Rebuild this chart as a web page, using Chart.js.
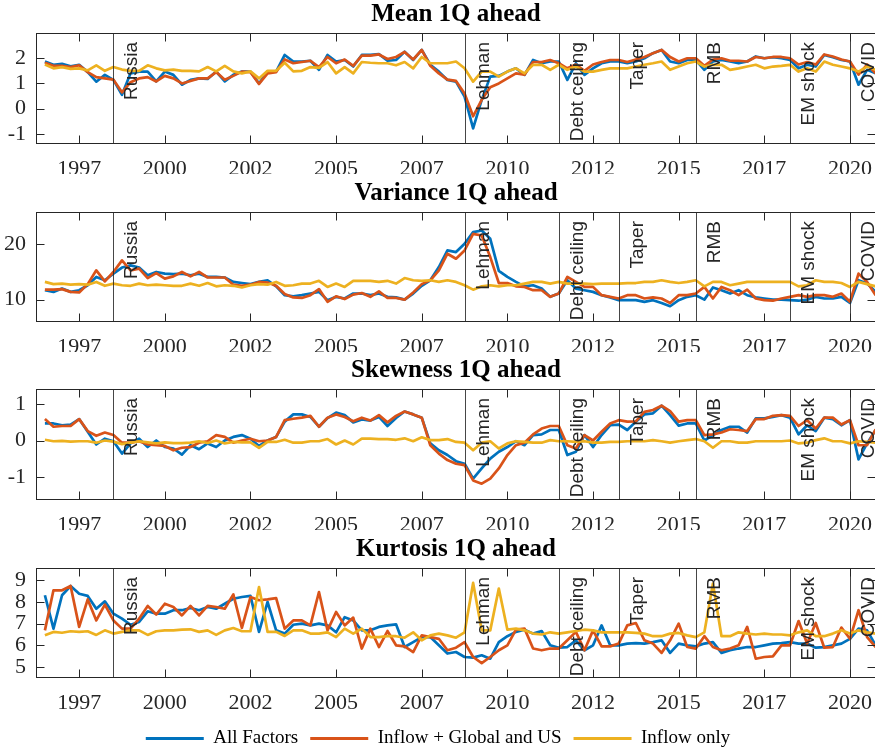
<!DOCTYPE html>
<html>
<head>
<meta charset="utf-8">
<script src="https://cdn.jsdelivr.net/npm/chart.js@4.4.0/dist/chart.umd.min.js"></script>
<style>
  body { margin: 0; background: #fff; overflow: hidden; }
  #wrap { position: relative; width: 875px; height: 753px; overflow: hidden; }
  canvas { position: absolute; left: 0; }
</style>
</head>
<body>
<div id="wrap">
  <canvas id="meanChart" width="876" height="174" style="top:0px"></canvas>
  <canvas id="varChart" width="876" height="173" style="top:179px"></canvas>
  <canvas id="skewChart" width="876" height="174" style="top:356px"></canvas>
  <canvas id="kurtChart" width="876" height="223" style="top:535px"></canvas>
</div>
<script>
// quarterly dates 1996Q3 .. 2020Q4 (decimal years)
var quarters = [];
for (var q = 0; q < 98; q++) quarters.push(1996.5 + q * 0.25);

// x axis ticks
var tickYears = [1997.5, 2000, 2002.5, 2005, 2007.5, 2010, 2012.5, 2015, 2017.5, 2020];
var tickLabels = ['1997', '2000', '2002', '2005', '2007', '2010', '2012', '2015', '2017', '2020'];

// event lines
var eventNames = ['Russia', 'Lehman', 'Debt ceiling', 'Taper', 'RMB', 'EM shock', 'COVID'];
var eventDates = [1998.5, 2008.75, 2011.5, 2013.25, 2015.5, 2018.25, 2020.0];

var seriesNames = ['All Factors', 'Inflow + Global and US', 'Inflow only'];
var seriesColors = ['#0072BD', '#D95319', '#EDB120'];

// Mean 1Q ahead
var meanAll = [1.87,1.74,1.78,1.68,1.74,1.45,1.07,1.34,1.14,0.55,1.4,1.47,1.47,1.08,1.47,1.34,0.95,1.14,1.2,1.18,
  1.47,1.08,1.34,1.47,1.47,1.0,1.47,1.47,2.13,1.87,1.87,1.9,1.54,2.13,1.87,1.93,1.67,2.13,2.13,2.16,
  1.9,1.93,2.26,1.93,2.33,1.74,1.47,1.14,1.07,0.48,-0.78,0.35,1.27,1.3,1.47,1.6,1.34,1.93,1.8,1.87,
  1.87,1.14,1.8,1.34,1.6,1.8,1.87,1.87,1.8,1.87,2.0,2.2,2.33,1.87,1.8,1.93,1.93,1.54,1.87,1.93,
  1.87,1.8,1.87,2.07,2.0,2.04,2.0,1.93,1.6,1.74,1.67,2.13,2.04,1.93,1.87,0.95,1.54,1.4];
var meanGlobal = [1.82,1.7,1.7,1.65,1.72,1.45,1.25,1.2,1.15,0.65,1.05,1.2,1.25,1.08,1.3,1.2,1.0,1.1,1.2,1.2,
  1.45,1.15,1.3,1.47,1.45,0.98,1.4,1.45,1.95,1.8,1.85,1.9,1.65,2.05,1.8,1.95,1.7,2.1,2.1,2.15,
  1.97,2.05,2.25,1.95,2.33,1.7,1.4,1.15,1.1,0.6,-0.3,0.35,0.85,1.0,1.2,1.4,1.35,1.85,1.85,1.93,
  1.8,1.6,1.75,1.5,1.75,1.85,1.93,1.93,1.85,1.95,2.05,2.2,2.33,2.05,1.87,2.0,2.0,1.7,1.95,2.0,
  1.9,1.9,1.87,2.05,2.0,2.05,2.05,2.0,1.75,1.85,1.75,2.15,2.07,1.95,1.87,1.35,1.75,1.4];
var meanInflow = [1.75,1.6,1.65,1.58,1.6,1.52,1.72,1.5,1.65,1.55,1.5,1.5,1.72,1.6,1.52,1.55,1.5,1.5,1.48,1.65,
  1.48,1.7,1.48,1.4,1.48,1.2,1.5,1.5,1.82,1.48,1.5,1.65,1.62,1.85,1.4,1.65,1.4,1.85,1.82,1.8,
  1.8,1.72,1.85,1.6,2.05,1.8,1.8,1.8,1.87,1.6,1.07,1.47,1.47,1.27,1.47,1.6,1.4,1.74,1.74,1.54,
  1.74,1.54,1.67,1.47,1.47,1.54,1.6,1.6,1.6,1.67,1.74,1.8,1.87,1.54,1.67,1.8,1.87,1.67,1.74,1.74,
  1.54,1.6,1.67,1.74,1.6,1.67,1.7,1.74,1.47,1.6,1.47,1.87,1.74,1.67,1.6,1.47,1.67,1.54];

// Variance 1Q ahead
var varAll = [11.7,11.4,12.0,11.4,11.7,12.6,14.1,13.5,14.7,15.8,16.2,15.8,14.4,15.0,14.7,14.6,14.7,14.4,14.7,14.1,
  14.1,14.0,13.2,13.0,12.8,13.2,13.5,12.4,10.8,10.6,10.8,11.1,11.4,9.9,10.5,10.2,11.1,11.1,10.8,11.1,
  10.5,10.4,10.0,11.1,12.5,13.5,15.9,18.9,18.6,20.1,22.2,22.5,21.0,15.2,14.1,13.2,12.4,12.6,12.0,10.5,
  11.1,13.5,12.0,11.7,11.4,10.8,10.4,9.9,9.9,9.9,9.6,9.9,9.4,8.8,9.9,10.5,10.8,10.0,12.2,11.7,
  11.1,11.7,10.8,10.4,10.2,10.0,10.0,9.9,9.8,10.0,10.5,10.2,10.2,10.5,9.4,13.5,12.9,11.4];
var varGlobal = [11.8,11.8,11.9,11.4,11.3,12.8,15.3,13.3,15.0,17.1,15.3,15.6,13.9,14.8,13.8,14.2,15.0,14.2,15.0,14.0,
  14.0,14.0,12.7,12.5,12.7,13.2,13.1,12.5,11.0,10.4,10.3,10.8,11.9,9.6,10.6,10.1,10.9,11.2,10.5,11.5,
  10.3,10.3,10.0,11.3,12.8,13.5,15.3,18.3,17.4,18.9,21.9,21.6,17.7,13.0,13.0,12.4,12.3,11.7,11.7,10.5,
  11.1,14.1,13.2,12.3,12.3,10.8,10.5,10.2,10.8,10.8,10.2,10.4,10.2,9.4,10.8,10.8,11.1,12.3,10.2,12.3,
  11.7,10.8,11.8,10.2,9.9,9.8,10.2,10.5,10.8,10.5,10.8,10.8,10.5,11.1,9.6,14.7,13.2,10.8];
var varInflow = [13.2,12.8,12.9,12.7,12.8,12.7,13.2,12.5,12.9,12.6,12.5,12.9,12.6,12.7,12.6,12.5,12.5,12.9,12.5,13.0,
  12.4,12.6,12.5,12.2,12.6,12.8,12.7,13.2,12.5,12.6,12.9,12.9,13.4,12.3,12.9,12.3,13.4,13.4,13.4,13.2,
  13.4,12.9,13.9,13.5,13.4,13.5,13.2,13.5,13.2,12.6,11.8,12.4,12.6,12.4,12.6,12.6,12.9,13.2,13.2,12.9,
  13.2,12.9,12.9,12.9,12.8,12.9,12.9,12.9,13.0,13.0,13.2,13.2,13.5,13.2,13.0,13.2,13.5,12.4,13.2,13.2,
  12.6,12.9,13.2,13.2,13.2,13.2,13.2,13.2,12.4,12.6,13.5,13.2,13.2,13.0,12.3,13.2,12.8,12.4];

// Skewness 1Q ahead
var skewAll = [0.47,0.47,0.42,0.44,0.59,0.24,-0.11,0.05,-0.02,-0.36,-0.08,0.05,-0.18,0.0,-0.18,-0.22,-0.39,-0.13,-0.24,-0.08,
  -0.18,0.0,0.1,0.15,0.05,-0.15,0.0,0.1,0.52,0.72,0.72,0.65,0.38,0.62,0.77,0.7,0.5,0.58,0.55,0.65,
  0.4,0.62,0.8,0.72,0.63,-0.08,-0.27,-0.4,-0.57,-0.64,-1.05,-0.77,-0.5,-0.31,-0.18,-0.02,-0.13,0.15,0.17,0.29,
  0.29,-0.4,-0.31,0.15,-0.18,0.15,0.42,0.44,0.29,0.52,0.72,0.75,0.96,0.7,0.41,0.47,0.47,0.0,0.15,0.29,
  0.38,0.38,0.22,0.61,0.61,0.65,0.7,0.63,0.17,0.42,0.26,0.63,0.59,0.42,0.56,-0.52,-0.08,0.29];
var skewGlobal = [0.59,0.38,0.4,0.4,0.59,0.26,0.13,0.22,0.15,-0.06,-0.06,-0.02,-0.11,-0.13,-0.15,-0.27,-0.2,-0.18,-0.06,-0.02,
  0.15,0.1,-0.06,0.0,0.05,-0.02,0.0,0.1,0.56,0.6,0.63,0.68,0.38,0.63,0.72,0.65,0.53,0.63,0.55,0.7,
  0.5,0.68,0.8,0.72,0.63,-0.13,-0.36,-0.54,-0.64,-0.68,-1.1,-1.19,-1.05,-0.77,-0.4,-0.13,-0.06,0.17,0.33,0.4,
  0.4,-0.13,-0.22,0.15,0.0,0.24,0.47,0.56,0.52,0.53,0.79,0.84,0.96,0.81,0.52,0.56,0.56,0.15,0.17,0.22,
  0.31,0.29,0.26,0.59,0.59,0.68,0.7,0.68,0.4,0.56,0.33,0.63,0.63,0.44,0.56,-0.13,-0.13,0.31];
var skewInflow = [0.02,-0.02,-0.01,-0.03,-0.02,-0.02,-0.06,0.0,-0.03,-0.1,-0.06,-0.02,-0.05,-0.08,-0.05,-0.07,-0.07,-0.06,-0.02,-0.07,
  0.0,-0.08,-0.04,-0.05,-0.05,-0.2,-0.04,-0.04,0.02,-0.06,-0.06,-0.02,-0.02,0.04,-0.11,0.0,-0.11,0.05,0.05,0.04,
  0.04,0.02,0.06,-0.02,0.09,0.01,0.01,0.04,-0.04,-0.06,-0.27,-0.06,-0.02,-0.22,-0.08,-0.02,-0.04,-0.06,-0.06,0.01,
  -0.02,-0.02,-0.04,-0.02,-0.06,-0.06,-0.04,-0.04,-0.02,-0.02,-0.02,0.01,-0.02,-0.06,-0.02,0.01,0.04,-0.02,-0.2,-0.02,
  -0.02,-0.06,-0.06,-0.02,-0.02,-0.02,-0.02,0.0,-0.08,-0.06,0.01,0.06,-0.02,-0.02,-0.08,-0.02,-0.04,-0.06];

// Kurtosis 1Q ahead
var kurtAll = [8.31,6.77,8.31,8.74,8.38,8.28,7.69,8.03,7.46,7.23,6.95,7.08,7.57,7.46,7.46,7.62,7.62,7.72,7.62,7.77,
  7.69,7.92,8.15,8.23,8.28,6.62,8.0,6.69,6.54,6.95,7.0,6.92,7.0,6.92,6.6,7.3,7.15,6.69,6.69,6.85,
  6.92,6.97,5.92,6.15,6.38,6.38,6.0,5.62,5.69,5.46,5.43,5.54,5.38,6.15,6.42,6.62,6.72,6.54,6.66,6.0,
  5.89,5.92,6.23,5.77,6.0,6.92,6.0,6.0,6.08,6.1,6.08,6.15,6.23,5.65,6.08,6.0,5.95,6.08,6.15,5.65,
  5.77,5.85,5.92,5.92,6.0,6.08,6.1,6.15,6.08,6.08,5.89,5.92,6.0,6.08,6.3,6.77,6.69,6.0];
var kurtGlobal = [6.69,8.54,8.54,8.74,6.85,8.12,7.15,7.88,7.15,6.77,6.77,7.23,7.82,7.42,7.92,7.77,7.38,7.82,7.38,7.82,
  7.77,7.69,8.35,6.8,8.23,8.08,8.12,8.18,6.77,7.15,7.15,6.92,8.46,6.69,7.54,6.92,7.28,5.85,6.77,5.92,
  6.66,6.0,5.95,5.69,6.46,6.38,6.3,5.77,5.89,6.15,5.46,5.18,5.46,5.77,6.0,6.72,6.77,5.85,5.77,5.85,
  5.85,6.23,6.62,5.77,6.69,5.95,5.95,6.08,6.92,7.03,6.23,6.08,5.65,6.23,7.0,5.92,5.85,6.42,5.92,5.77,
  5.85,6.0,6.85,5.38,5.46,5.49,6.0,6.0,7.12,6.08,7.03,5.89,5.92,6.82,6.3,7.62,6.38,5.92];
var kurtInflow = [6.46,6.62,6.58,6.65,6.62,6.65,6.48,6.69,6.54,6.62,6.69,6.69,6.48,6.65,6.69,6.69,6.72,6.74,6.62,6.69,
  6.48,6.69,6.8,6.65,6.65,8.69,6.62,6.62,6.43,6.69,6.69,6.54,6.54,6.6,6.38,6.77,6.54,6.77,6.38,6.38,
  6.42,6.42,6.35,6.6,6.23,6.46,6.54,6.46,6.35,6.6,8.88,6.69,6.69,8.62,6.72,6.77,6.69,6.54,6.5,6.6,
  6.54,6.6,6.66,6.72,6.69,6.6,6.6,6.6,6.6,6.57,6.54,6.42,6.42,6.54,6.57,6.46,6.38,6.6,8.85,6.42,
  6.42,6.6,6.54,6.5,6.54,6.5,6.5,6.46,6.6,6.69,6.42,6.42,6.54,6.69,6.54,6.69,6.6,6.54];

var tickColor = '#262626';
var serif = '"Liberation Serif", "Times New Roman", serif';

// box, inward ticks and event lines like the MATLAB axes
var axesFrame = {
    id: 'axesFrame',
    afterDatasetsDraw: function(chart) {
        var ctx = chart.ctx, a = chart.chartArea, xs = chart.scales.x;
        ctx.save();
        ctx.strokeStyle = 'rgba(38,38,38,0.85)';
        ctx.lineWidth = 1;
        eventDates.forEach(function(d) {
            var px = Math.round(xs.getPixelForValue(d)) + 0.5;
            ctx.beginPath();
            ctx.moveTo(px, a.top);
            ctx.lineTo(px, a.bottom);
            ctx.stroke();
        });
        ctx.fillStyle = tickColor;
        ctx.font = '19px "Liberation Sans", Arial, sans-serif';
        ctx.textAlign = 'right';
        ctx.textBaseline = 'alphabetic';
        eventDates.forEach(function(d, i) {
            var px = xs.getPixelForValue(d);
            ctx.save();
            ctx.translate(px + 24, a.top + 9);
            ctx.rotate(-Math.PI / 2);
            ctx.fillText(eventNames[i], 0, 0);
            ctx.restore();
        });
        ctx.restore();
    },
    afterDraw: function(chart) {
        var ctx = chart.ctx, a = chart.chartArea, xs = chart.scales.x, ys = chart.scales.y;
        var L = Math.round(a.left) + 0.5, R = Math.round(a.right) - 0.5;
        var T = Math.round(a.top) + 0.5, B = Math.round(a.bottom) - 0.5;
        ctx.save();
        ctx.strokeStyle = tickColor;
        ctx.lineWidth = 1;
        ctx.strokeRect(L, T, R - L, B - T);
        ctx.beginPath();
        xs.ticks.forEach(function(t) {
            var px = Math.round(xs.getPixelForValue(t.value)) + 0.5;
            ctx.moveTo(px, B); ctx.lineTo(px, B - 8);
            ctx.moveTo(px, T); ctx.lineTo(px, T + 8);
        });
        ys.ticks.forEach(function(t) {
            var py = Math.round(ys.getPixelForValue(t.value)) + 0.5;
            ctx.moveTo(L, py); ctx.lineTo(L + 8, py);
            ctx.moveTo(R, py); ctx.lineTo(R - 8, py);
        });
        ctx.stroke();
        ctx.restore();
    }
};

function makePanel(id, title, all, global, inflow, yMin, yMax, yTicks, xAxisHeight, showLegend) {
    var ctx = document.getElementById(id);
    var sets = [all, global, inflow].map(function(vals, k) {
        return {
            label: seriesNames[k],
            data: vals.map(function(v, i) { return {x: quarters[i], y: v}; }),
            borderColor: seriesColors[k],
            backgroundColor: seriesColors[k],
            borderWidth: 2.7,
            borderJoinStyle: 'round',
            pointRadius: 0,
            tension: 0,
            order: 3 - k
        };
    });

    return new Chart(ctx, {
        type: 'line',
        data: { datasets: sets },
        options: {
            responsive: false,
            animation: false,
            devicePixelRatio: 1,
            layout: { padding: 0 },
            scales: {
                x: {
                    type: 'linear',
                    min: 1996.24,
                    max: 2020.76,
                    grid: { display: false },
                    border: { display: false },
                    afterBuildTicks: function(s) {
                        s.ticks = tickYears.map(function(v) { return {value: v}; });
                    },
                    afterFit: function(s) {
                        s.height = xAxisHeight;
                        s.paddingLeft = 0;
                        s.paddingRight = 0;
                    },
                    ticks: {
                        autoSkip: false,
                        maxRotation: 0,
                        padding: 4,
                        color: tickColor,
                        font: { family: serif, size: 22 },
                        callback: function(value, index) { return tickLabels[index]; }
                    }
                },
                y: {
                    type: 'linear',
                    min: yMin,
                    max: yMax,
                    grid: { display: false },
                    border: { display: false },
                    afterBuildTicks: function(s) {
                        s.ticks = yTicks.map(function(v) { return {value: v}; });
                    },
                    afterFit: function(s) {
                        s.width = 36;
                        s.paddingTop = 0;
                        s.paddingBottom = 0;
                    },
                    ticks: {
                        autoSkip: false,
                        padding: 2,
                        color: tickColor,
                        font: { family: serif, size: 22 },
                        callback: function(value) { return String(value); }
                    }
                }
            },
            plugins: {
                title: {
                    display: true,
                    text: title,
                    fullSize: false,
                    color: '#000',
                    font: { family: serif, size: 25, weight: 'bold', lineHeight: 1.2 },
                    padding: { top: 0, bottom: 3 }
                },
                legend: {
                    display: showLegend,
                    position: 'bottom',
                    labels: {
                        boxWidth: 58,
                        boxHeight: 3,
                        padding: 12,
                        color: '#000',
                        font: { family: serif, size: 19 },
                        sort: function(a, b) { return a.datasetIndex - b.datasetIndex; },
                        generateLabels: function(chart) {
                            var items = Chart.defaults.plugins.legend.labels.generateLabels(chart);
                            items.forEach(function(it) { it.lineWidth = 0; });
                            return items;
                        }
                    }
                },
                tooltip: { enabled: false }
            }
        },
        plugins: [axesFrame]
    });
}

makePanel('meanChart', 'Mean 1Q ahead', meanAll, meanGlobal, meanInflow, -1.4, 3.0, [-1, 0, 1, 2], 30, false);
makePanel('varChart', 'Variance 1Q ahead', varAll, varGlobal, varInflow, 5.95, 25.85, [10, 20], 30, false);
makePanel('skewChart', 'Skewness 1Q ahead', skewAll, skewGlobal, skewInflow, -1.64, 1.42, [-1, 0, 1], 30, false);
makePanel('kurtChart', 'Kurtosis 1Q ahead', kurtAll, kurtGlobal, kurtInflow, 4.49, 9.57, [5, 6, 7, 8, 9], 39, true);
</script>
</body>
</html>
